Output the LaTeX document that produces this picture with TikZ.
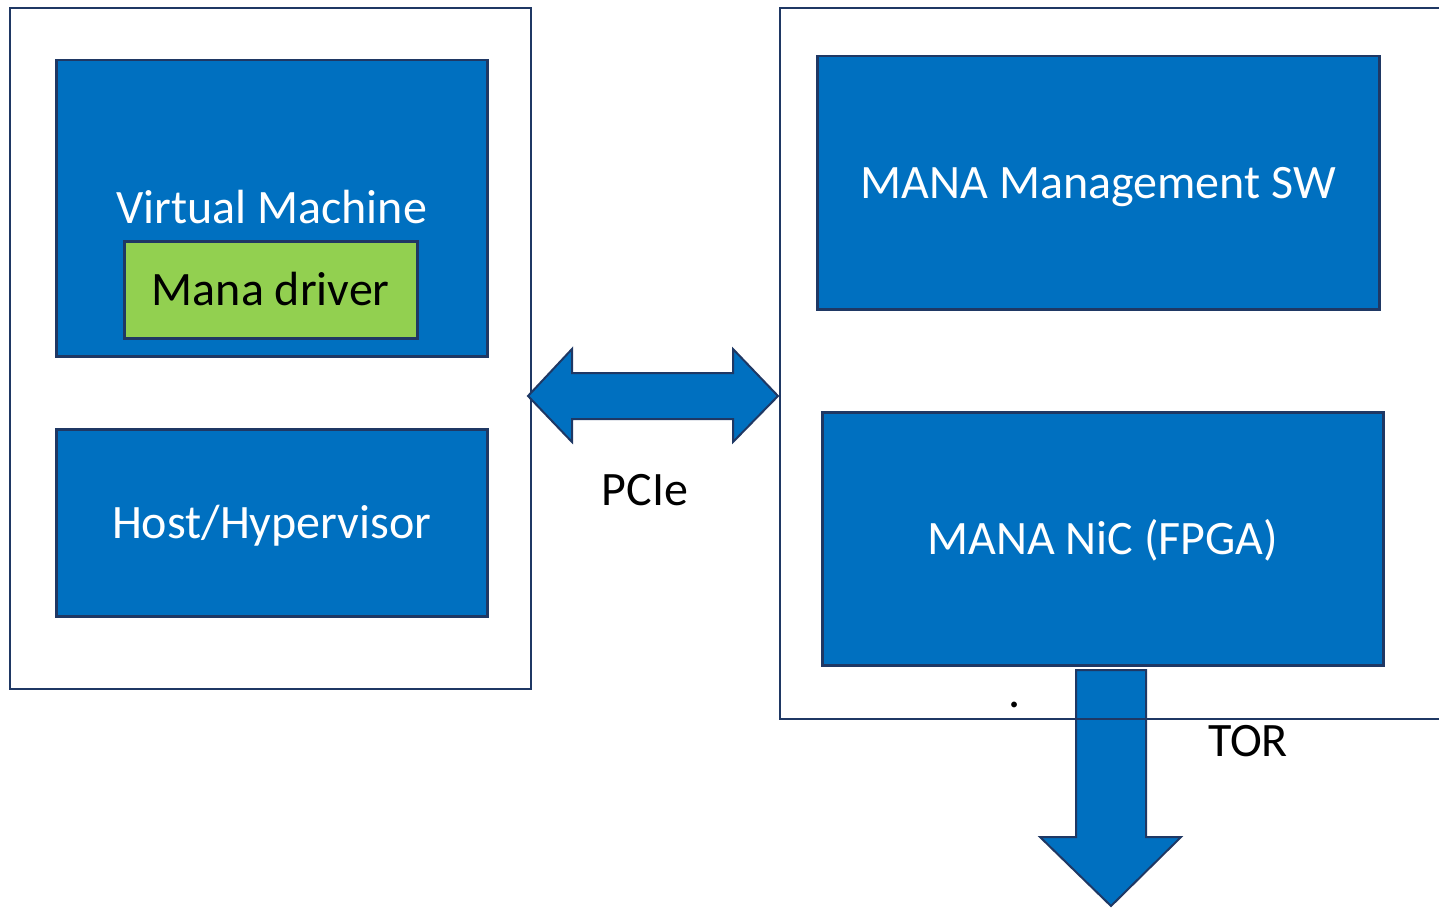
\documentclass[tikz,border=0pt]{standalone}
\usepackage{fontspec}
\setmainfont{Carlito}
\definecolor{manablue}{HTML}{0070C0}
\definecolor{edgenavy}{HTML}{1F3864}
\definecolor{drvgreen}{HTML}{92D050}
\tikzset{
  outerbox/.style={draw=edgenavy,line width=2pt,anchor=north west,inner sep=0pt},
  bluebox/.style={draw=edgenavy,fill=manablue,line width=2.5pt,text=white,anchor=north west,
    inner sep=0pt,text height=37pt,text depth=6pt},
  drvbox/.style={draw=edgenavy,fill=drvgreen,line width=2.5pt,text=black,anchor=north west,
    inner sep=0pt,text height=37pt,text depth=6pt},
  fatarrow/.style={draw=edgenavy,fill=manablue,line width=2pt,line join=miter}
}
\begin{document}
\begin{tikzpicture}[x=1pt,y=-1pt,text height=1.5ex,text depth=.25ex,
  every node/.append style={font=\fontsize{48}{58}\selectfont}]
\clip (0,0) rectangle (1439,907);
% host side
\node (host-side) [outerbox,minimum width=521pt,minimum height=681pt] at (9,7) {};
\node (vm) [bluebox,minimum width=431pt,minimum height=296pt] at (55,59) {Virtual Machine};
\node (mana-drv) [drvbox,minimum width=293pt,minimum height=97pt] at (123,240) {Mana driver};
\node (hyp) [bluebox,minimum width=431pt,minimum height=187pt] at (55,428) {Host/Hypervisor};
% nic side
\node (mgmt-sw) [bluebox,minimum width=562pt,minimum height=253pt] at (816,55) {MANA Management SW};
\node (mana-nic) [bluebox,minimum width=561pt,minimum height=253pt] at (821,411) {MANA NiC (FPGA)};
\draw[fatarrow] (1076,670) -- (1146,670) -- (1146,837) -- (1181,837) -- (1111,906)
  -- (1040,837) -- (1076,837) -- cycle;
\node (nic-side) [outerbox,minimum width=700pt,minimum height=711pt] at (779,7) {};
% links
\draw[fatarrow] (528,396) -- (572,349) -- (572,373) -- (733,373) -- (733,349) -- (778,396)
  -- (733,442) -- (733,419) -- (572,419) -- (572,442) -- cycle;
\node (pcie) [anchor=base] at (645,505) {PCIe};
\node (tor) [anchor=base] at (1248,756) {TOR};
\node (dot) [anchor=base] at (1015,707) {.};
\end{tikzpicture}
\end{document}
